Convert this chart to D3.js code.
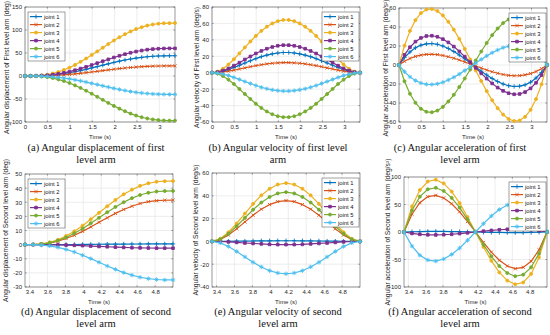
<!DOCTYPE html>
<html>
<head>
<meta charset="utf-8">
<title>Arm joint motion</title>
<style>
  body { margin: 0; background: #fff; }
  svg { display: block; }
  .tick text { font-family: "Liberation Sans", Arial, sans-serif; font-size: 6px; fill: #262626; }
  .lab { font-family: "Liberation Sans", Arial, sans-serif; font-size: 6px; fill: #262626; }
  .ylab { font-family: "Liberation Sans", Arial, sans-serif; font-size: 6.7px; fill: #262626; }
  .leg { font-family: "Liberation Sans", Arial, sans-serif; font-size: 5.8px; fill: #111; }
  .caption { font-family: "Liberation Serif", "Times New Roman", serif; font-size: 10.5px; fill: #111; }
</style>
<script src="https://d3js.org/d3.v7.min.js"></script>
</head>
<body>
<script>

// time axes
var tFirst = [0,0.124,0.248,0.372,0.496,0.62,0.744,0.869,0.993,1.117,1.241,1.365,1.489,1.613,
              1.737,1.861,1.985,2.109,2.233,2.357,2.481,2.606,2.73,2.854,2.978,3.102,3.226,3.35];
var tSecond = [3.35,3.442,3.533,3.625,3.717,3.808,3.9,3.992,4.083,4.175,4.267,4.358,4.45,4.542,
               4.633,4.725,4.817,4.908,5.0];

var joints = ['joint 1','joint 2','joint 3','joint 4','joint 5','joint 6'];

// first level arm, joints 1..6
var dispFirst = [
  [0,0,0.2,0.5,1.1,2.1,3.4,5,7,9.2,11.8,14.5,17.5,20.5,23.5,26.5,29.5,32.2,34.8,37,39,40.6,41.9,42.9,43.5,43.8,44,44],
  [0,0,0.1,0.3,0.6,1,1.7,2.5,3.5,4.6,5.9,7.3,8.7,10.2,11.8,13.3,14.7,16.1,17.4,18.5,19.5,20.3,21,21.4,21.7,21.9,22,22],
  [0,0.1,0.4,1.3,3,5.4,8.8,13.1,18.2,24.1,30.8,38,45.6,53.5,61.5,69.4,77,84.2,90.9,96.8,102,106.2,109.6,112,113.7,114.6,114.9,115],
  [0,0,0.2,0.7,1.5,2.8,4.6,6.8,9.5,12.6,16.1,19.8,23.8,27.9,32.1,36.2,40.2,43.9,47.4,50.5,53.2,55.4,57.2,58.5,59.3,59.8,60,60],
  [0,0,-0.3,-1.1,-2.5,-4.6,-7.4,-11,-15.3,-20.4,-26,-32,-38.5,-45.1,-51.9,-58.5,-65,-71,-76.6,-81.7,-86,-89.6,-92.4,-94.5,-95.9,-96.7,-97,-97],
  [0,0,-0.1,-0.5,-1,-1.9,-3.1,-4.5,-6.3,-8.4,-10.7,-13.2,-15.9,-18.6,-21.4,-24.1,-26.8,-29.3,-31.6,-33.7,-35.5,-36.9,-38.1,-39,-39.5,-39.9,-40,-40]
];
var velFirst = [
  [0,0.5,1.9,3.8,6.3,9,11.8,14.5,17.1,19.5,21.4,23,24,24.6,24.6,24,23,21.4,19.5,17.1,14.5,11.8,9,6.3,3.8,1.9,0.5,0],
  [0,0.3,0.9,1.9,3.1,4.5,5.9,7.3,8.6,9.7,10.7,11.5,12,12.3,12.3,12,11.5,10.7,9.7,8.6,7.3,5.9,4.5,3.1,1.9,0.9,0.3,0],
  [0,1.3,4.8,10,16.4,23.5,30.8,38,44.8,50.9,56,60,62.8,64.2,64.2,62.8,60,56,50.9,44.8,38,30.8,23.5,16.4,10,4.8,1.3,0],
  [0,0.7,2.5,5.2,8.6,12.2,16.1,19.8,23.4,26.5,29.2,31.3,32.8,33.5,33.5,32.8,31.3,29.2,26.5,23.4,19.8,16.1,12.2,8.6,5.2,2.5,0.7,0],
  [0,-1.1,-4.1,-8.5,-13.8,-19.8,-26,-32,-37.8,-42.9,-47.2,-50.6,-53,-54.1,-54.1,-53,-50.6,-47.2,-42.9,-37.8,-32,-26,-19.8,-13.8,-8.5,-4.1,-1.1,0],
  [0,-0.5,-1.7,-3.5,-5.7,-8.2,-10.7,-13.2,-15.6,-17.7,-19.5,-20.9,-21.8,-22.3,-22.3,-21.8,-20.9,-19.5,-17.7,-15.6,-13.2,-10.7,-8.2,-5.7,-3.5,-1.7,-0.5,0]
];
var accFirst = [
  [0,7.8,13.7,18.1,20.9,22.3,22.6,21.8,20,17.4,14.2,10.5,6.5,2.2,-2.2,-6.5,-10.5,-14.2,-17.4,-20,-21.8,-22.6,-22.3,-20.9,-18.1,-13.7,-7.8,0],
  [0,3.9,6.9,9,10.4,11.2,11.3,10.9,10,8.7,7.1,5.3,3.2,1.1,-1.1,-3.2,-5.3,-7.1,-8.7,-10,-10.9,-11.3,-11.2,-10.4,-9,-6.9,-3.9,0],
  [0,20.3,35.9,47.2,54.6,58.4,59,56.9,52.2,45.5,37.2,27.5,16.9,5.7,-5.7,-16.9,-27.5,-37.2,-45.5,-52.2,-56.9,-59,-58.4,-54.6,-47.2,-35.9,-20.3,0],
  [0,10.6,18.7,24.6,28.5,30.5,30.8,29.7,27.2,23.8,19.4,14.3,8.8,3,-3,-8.8,-14.3,-19.4,-23.8,-27.2,-29.7,-30.8,-30.5,-28.5,-24.6,-18.7,-10.6,0],
  [0,-17.1,-30.3,-39.8,-46.1,-49.3,-49.8,-48,-44.1,-38.4,-31.4,-23.2,-14.2,-4.8,4.8,14.2,23.2,31.4,38.4,44.1,48,49.8,49.3,46.1,39.8,30.3,17.1,0],
  [0,-7.1,-12.5,-16.4,-19,-20.3,-20.5,-19.8,-18.2,-15.8,-12.9,-9.6,-5.9,-2,2,5.9,9.6,12.9,15.8,18.2,19.8,20.5,20.3,19,16.4,12.5,7.1,0]
];

// second level arm, joints 1..6
var dispSecond = [
  [0,0,0.01,0.02,0.04,0.07,0.1,0.15,0.2,0.25,0.3,0.35,0.4,0.43,0.46,0.48,0.49,0.5,0.5],
  [0,0.1,0.4,1.1,2.4,4.3,6.6,9.4,12.5,15.8,19,22.1,24.9,27.2,29.1,30.4,31.1,31.4,31.5],
  [0,0.1,0.5,1.6,3.4,6.1,9.4,13.4,17.9,22.5,27.1,31.6,35.6,38.9,41.6,43.4,44.5,44.9,45],
  [0,0,0,-0.1,-0.2,-0.3,-0.5,-0.7,-1,-1.3,-1.5,-1.8,-2,-2.2,-2.3,-2.4,-2.5,-2.5,-2.5],
  [0,0.1,0.4,1.3,2.9,5.1,8,11.3,15.1,19,22.9,26.7,30,32.9,35.1,36.7,37.6,37.9,38],
  [0,0,-0.3,-0.9,-1.9,-3.4,-5.2,-7.5,-9.9,-12.5,-15.1,-17.5,-19.8,-21.6,-23.1,-24.1,-24.7,-25,-25]
];
var velSecond = [
  [0,0.03,0.09,0.18,0.27,0.37,0.45,0.51,0.55,0.57,0.55,0.51,0.45,0.37,0.27,0.18,0.09,0.03,0],
  [0,1.6,5.6,11,17.1,23,28.3,32.3,34.9,35.8,34.9,32.3,28.3,23,17.1,11,5.6,1.6,0],
  [0,2.3,8,15.8,24.4,32.9,40.4,46.2,49.9,51.1,49.9,46.2,40.4,32.9,24.4,15.8,8,2.3,0],
  [0,-0.1,-0.4,-0.9,-1.4,-1.8,-2.2,-2.6,-2.8,-2.8,-2.8,-2.6,-2.2,-1.8,-1.4,-0.9,-0.4,-0.1,0],
  [0,1.9,6.7,13.3,20.6,27.8,34.1,39,42.1,43.2,42.1,39,34.1,27.8,20.6,13.3,6.7,1.9,0],
  [0,-1.3,-4.4,-8.8,-13.6,-18.3,-22.4,-25.7,-27.7,-28.4,-27.7,-25.7,-22.4,-18.3,-13.6,-8.8,-4.4,-1.3,0]
];
var accSecond = [
  [0,0.5,0.8,1,1.1,1,0.8,0.6,0.3,0,-0.3,-0.6,-0.8,-1,-1.1,-1,-0.8,-0.5,0],
  [0,32.4,53.3,64.3,66.7,61.9,51.4,36.7,19,0,-19,-36.7,-51.4,-61.9,-66.7,-64.3,-53.3,-32.4,0],
  [0,46.3,76.2,91.8,95.2,88.4,73.5,52.4,27.2,0,-27.2,-52.4,-73.5,-88.4,-95.2,-91.8,-76.2,-46.3,0],
  [0,-2.6,-4.2,-5.1,-5.3,-4.9,-4.1,-2.9,-1.5,0,1.5,2.9,4.1,4.9,5.3,5.1,4.2,2.6,0],
  [0,39.1,64.3,77.6,80.4,74.7,62,44.2,23,0,-23,-44.2,-62,-74.7,-80.4,-77.6,-64.3,-39.1,0],
  [0,-25.7,-42.3,-51,-52.9,-49.1,-40.8,-29.1,-15.1,0,15.1,29.1,40.8,49.1,52.9,51,42.3,25.7,0]
];

// axis ticks
var xTicksFirst = [0,0.5,1,1.5,2,2.5,3];
var xTicksSecond = [3.4,3.6,3.8,4,4.2,4.4,4.6,4.8];

var colors = ['#0072BD','#D95319','#EDB120','#7E2F8E','#77AC30','#4DBEEE'];
var marks = ['plus','cross','circle','square','circle','star'];

var panels = [
  {t: tFirst, data: dispFirst, xd: [0,3.35], xt: xTicksFirst, yd: [-100,150], yt: [-100,-50,0,50,100,150],
   box: [25,175,7,122], labX: 7, leg: 'left',
   ylab: 'Angular displacement of First level arm (deg)',
   cap: ['(a) Angular displacement of first', 'level arm']},
  {t: tFirst, data: velFirst, xd: [0,3.35], xt: xTicksFirst, yd: [-60,80], yt: [-60,-40,-20,0,20,40,60,80],
   box: [212,360,7,122], labX: 197, leg: 'right',
   ylab: 'Angular velocity of First level arm (deg/s)',
   cap: ['(b) Angular velocity of first level', 'arm']},
  {t: tFirst, data: accFirst, xd: [0,3.35], xt: xTicksFirst, yd: [-60,60], yt: [-60,-40,-20,0,20,40,60],
   box: [399,547,8,122], labX: 386, leg: 'right',
   ylab: 'Angular acceleration of First level arm (deg/s\u00b2)',
   cap: ['(c) Angular acceleration of first', 'level arm']},
  {t: tSecond, data: dispSecond, xd: [3.35,5.0], xt: xTicksSecond, yd: [-30,50], yt: [-30,-20,-10,0,10,20,30,40,50],
   box: [25,173,174,287], labX: 6, leg: 'left',
   ylab: 'Angular displacement of Second level arm (deg)',
   cap: ['(d) Angular displacement of second', 'level arm']},
  {t: tSecond, data: velSecond, xd: [3.35,5.0], xt: xTicksSecond, yd: [-40,60], yt: [-40,-20,0,20,40,60],
   box: [212,360,173,287], labX: 196, leg: 'right',
   ylab: 'Angular velocity of Second level arm (deg/s)',
   cap: ['(e) Angular velocity of second', 'level arm']},
  {t: tSecond, data: accSecond, xd: [3.35,5.0], xt: xTicksSecond, yd: [-100,100], yt: [-100,-50,0,50,100],
   box: [404,547,177,287], labX: 388, leg: 'right',
   ylab: 'Angular acceleration of Second level arm (deg/s\u00b2)',
   cap: ['(f) Angular acceleration of second', 'level arm']}
];

var capX = [96, 278, 460];

var svg = d3.select('body').append('svg')
    .attr('width', 550)
    .attr('height', 335);

function markPath(k) {
  if (k === 'plus') return 'M-2.2,0H2.2M0,-2.2V2.2';
  if (k === 'cross') return 'M-1.6,-1.6L1.6,1.6M-1.6,1.6L1.6,-1.6';
  if (k === 'star') return 'M-2.2,0H2.2M0,-2.2V2.2M-1.5,-1.5L1.5,1.5M-1.5,1.5L1.5,-1.5';
  if (k === 'square') return d3.symbol(d3.symbolSquare, 7)();
  return d3.symbol(d3.symbolCircle, 7)();
}
function isFilled(k) { return k === 'circle' || k === 'square'; }

panels.forEach(function(p, pi) {
  var x0 = p.box[0], x1 = p.box[1], y0 = p.box[2], y1 = p.box[3];
  var x = d3.scaleLinear().domain(p.xd).range([x0, x1]);
  var y = d3.scaleLinear().domain(p.yd).range([y1, y0]);
  var g = svg.append('g');

  // grid
  g.selectAll('.gx').data(p.xt).enter().append('line')
    .attr('x1', function(d) { return x(d); }).attr('x2', function(d) { return x(d); })
    .attr('y1', y0).attr('y2', y1)
    .attr('stroke', '#e1e1e1').attr('stroke-width', 0.6);
  g.selectAll('.gy').data(p.yt).enter().append('line')
    .attr('y1', function(d) { return y(d); }).attr('y2', function(d) { return y(d); })
    .attr('x1', x0).attr('x2', x1)
    .attr('stroke', '#e1e1e1').attr('stroke-width', 0.6);

  // axes
  var xa = g.append('g').attr('transform', 'translate(0,' + y1 + ')')
    .call(d3.axisBottom(x).tickValues(p.xt).tickSize(0).tickPadding(3).tickFormat(String));
  var ya = g.append('g').attr('transform', 'translate(' + x0 + ',0)')
    .call(d3.axisLeft(y).tickValues(p.yt).tickSize(0).tickPadding(3).tickFormat(String));
  xa.select('.domain').remove();
  ya.select('.domain').remove();

  // inward ticks
  g.selectAll('.tx').data(p.xt).enter().append('path')
    .attr('d', function(d) { return 'M' + x(d) + ',' + y1 + 'v-1.6M' + x(d) + ',' + y0 + 'v1.6'; })
    .attr('stroke', '#444').attr('stroke-width', 0.5);
  g.selectAll('.ty').data(p.yt).enter().append('path')
    .attr('d', function(d) { return 'M' + x0 + ',' + y(d) + 'h1.6M' + x1 + ',' + y(d) + 'h-1.6'; })
    .attr('stroke', '#444').attr('stroke-width', 0.5);

  g.append('rect')
    .attr('x', x0).attr('y', y0).attr('width', x1 - x0).attr('height', y1 - y0)
    .attr('fill', 'none').attr('stroke', '#555').attr('stroke-width', 0.6);

  // series
  var line = d3.line()
    .x(function(d, i) { return x(p.t[i]); })
    .y(function(d) { return y(d); });
  p.data.forEach(function(vals, j) {
    g.append('path').datum(vals)
      .attr('d', line)
      .attr('fill', 'none')
      .attr('stroke', colors[j])
      .attr('stroke-width', 1.2);
    g.selectAll('.m' + j).data(vals).enter().append('path')
      .attr('d', markPath(marks[j]))
      .attr('transform', function(d, i) { return 'translate(' + x(p.t[i]) + ',' + y(d) + ')'; })
      .attr('fill', isFilled(marks[j]) ? colors[j] : 'none')
      .attr('stroke', colors[j])
      .attr('stroke-width', 0.9);
  });

  // legend
  var lw = 37, lh = 49;
  var lx = p.leg === 'left' ? x0 + 3 : x1 - lw - 1;
  var ly = y0 + 5;
  var lg = g.append('g').attr('transform', 'translate(' + lx + ',' + ly + ')');
  lg.append('rect').attr('width', lw).attr('height', lh)
    .attr('fill', '#fff').attr('stroke', '#444').attr('stroke-width', 0.5);
  joints.forEach(function(name, j) {
    var cy = 4.6 + j * 8;
    lg.append('line').attr('x1', 2).attr('x2', 14).attr('y1', cy).attr('y2', cy)
      .attr('stroke', colors[j]).attr('stroke-width', 1.2);
    lg.append('path').attr('d', markPath(marks[j]))
      .attr('transform', 'translate(8,' + cy + ')')
      .attr('fill', isFilled(marks[j]) ? colors[j] : 'none')
      .attr('stroke', colors[j]).attr('stroke-width', 0.9);
    lg.append('text').attr('class', 'leg')
      .attr('x', 16).attr('y', cy + 2).text(name);
  });

  // axis labels (first row a bit lower so the top stays on the page)
  var labY = pi < 3 ? (y0 + y1) / 2 + 3 : (y0 + y1) / 2;
  g.append('text').attr('class', 'ylab')
    .attr('text-anchor', 'middle')
    .attr('transform', 'translate(' + p.labX + ',' + labY + ') rotate(-90)')
    .attr('dy', '0.35em')
    .text(p.ylab);
  g.append('text').attr('class', 'lab')
    .attr('text-anchor', 'middle')
    .attr('x', (x0 + x1) / 2).attr('y', y1 + 17)
    .text('Time (s)');

  // caption
  var cy0 = pi < 3 ? 150.5 : 314.5;
  p.cap.forEach(function(c, k) {
    g.append('text').attr('class', 'caption')
      .attr('text-anchor', 'middle')
      .attr('x', capX[pi % 3]).attr('y', cy0 + k * 12.5)
      .text(c);
  });
});

</script>
</body>
</html>
